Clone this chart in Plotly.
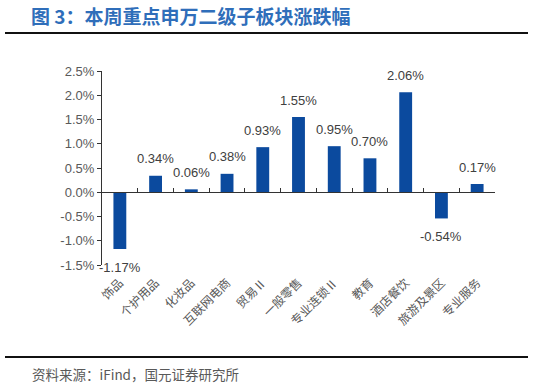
import plotly.graph_objects as go

categories = ["饰品", "个护用品", "化妆品", "互联网电商", "贸易Ⅱ", "一般零售",
              "专业连锁Ⅱ", "教育", "酒店餐饮", "旅游及景区", "专业服务"]
values = [-1.17, 0.34, 0.06, 0.38, 0.93, 1.55, 0.95, 0.70, 2.06, -0.54, 0.17]
y_ticks = [-1.5, -1.0, -0.5, 0.0, 0.5, 1.0, 1.5, 2.0, 2.5]
y_tick_labels = [f"{v:.1f}%" for v in y_ticks]
labels = [f"{v:.2f}%" for v in values]
title = "图 3：本周重点申万二级子板块涨跌幅"
source = "资料来源：iFind，国元证券研究所"

W, H = 533, 387
ML, MT = 102, 71
PW, PH = 393, 194
MR, MB = W - ML - PW, H - MT - PH

def px(x):
    return (x - ML) / PW

def py(y):
    return (MT + PH - y) / PH

ymin, ymax = -1.5, 2.5
zero_pos = (0 - ymin) / (ymax - ymin)

fig = go.Figure()
fig.add_trace(go.Bar(
    x=categories, y=values, width=0.36,
    marker=dict(color="#0B4A9E", line=dict(width=0)),
    hoverinfo="skip",
))
fig.add_trace(go.Scatter(
    x=categories, y=[0] * len(categories), xaxis="x2", mode="markers",
    marker=dict(opacity=0), hoverinfo="skip", showlegend=False,
))

for c, v, t in zip(categories, values, labels):
    fig.add_annotation(
        x=c, y=v, xref="x", yref="y", text=t, showarrow=False,
        xanchor="center", yanchor="middle", yshift=17 if v >= 0 else -18,
        font=dict(family="Liberation Sans, Arial, sans-serif", size=13, color="#404040"),
    )

fig.update_layout(
    width=W, height=H,
    margin=dict(l=ML, r=MR, t=MT, b=MB, pad=0, autoexpand=False),
    paper_bgcolor="white", plot_bgcolor="white",
    showlegend=False,
    xaxis=dict(
        type="category", range=[-0.5, len(categories) - 0.5],
        showline=False, ticks="outside", ticklen=5, tickcolor="rgba(0,0,0,0)",
        showgrid=False, zeroline=False,
        tickangle=-45,
        tickfont=dict(family="Noto Sans CJK SC, sans-serif", size=12, color="#595959"),
    ),
    xaxis2=dict(
        type="category", overlaying="x", anchor="free", position=zero_pos,
        range=[-0.5, len(categories) - 0.5],
        showline=True, linecolor="#333333", linewidth=1.2,
        ticks="inside", ticklen=4, tickwidth=1, tickcolor="#333333",
        tickson="boundaries", showticklabels=False, showgrid=False, zeroline=False,
    ),
    yaxis=dict(
        range=[ymin, ymax], tickvals=y_ticks, ticktext=y_tick_labels,
        showline=True, linecolor="#333333", linewidth=1.2,
        ticks="outside", ticklen=4, tickcolor="#333333",
        showgrid=False, zeroline=False,
        tickfont=dict(family="Liberation Sans, Arial, sans-serif", size=13, color="#595959"),
    ),
)

fig.add_annotation(
    text=title, xref="paper", yref="paper", x=px(29), y=py(16),
    xanchor="left", yanchor="middle", showarrow=False,
    font=dict(family="Noto Sans CJK SC, sans-serif", size=19, color="#2F6EBA", weight="bold"),
)
fig.add_annotation(
    text=source, xref="paper", yref="paper", x=px(30), y=py(374),
    xanchor="left", yanchor="middle", showarrow=False,
    font=dict(family="Noto Sans CJK SC, Liberation Sans, sans-serif", size=13.5, color="#595959"),
)
for yline in (33, 357):
    fig.add_shape(type="line", xref="paper", yref="paper",
                  x0=px(5), x1=px(528), y0=py(yline), y1=py(yline),
                  line=dict(color="#111111", width=2))

fig.write_html(
    "out.html",
    config={"displayModeBar": False},
    post_script="document.body.style.margin='0';document.body.style.overflow='hidden';",
)
